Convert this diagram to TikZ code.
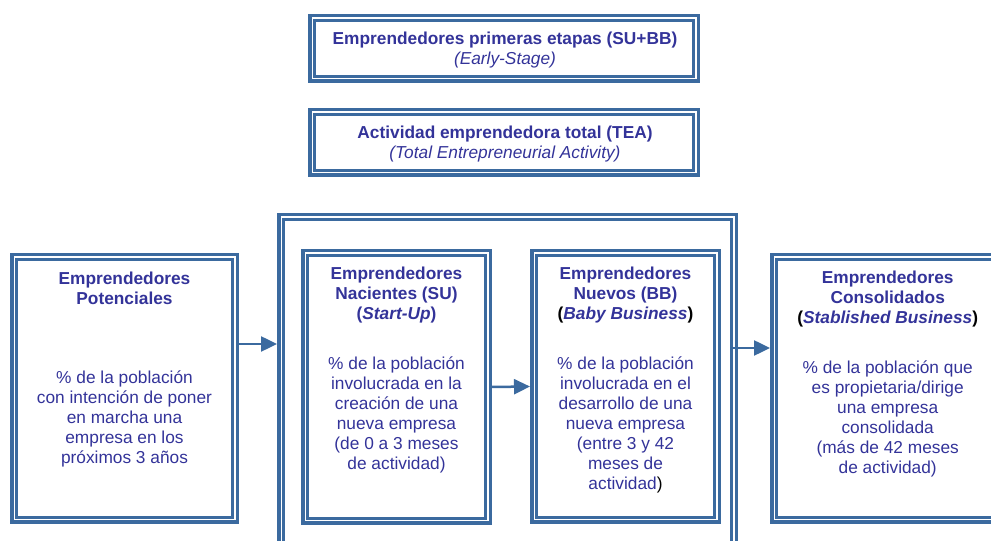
\documentclass[tikz,border=0pt]{standalone}
\usepackage{fontspec}
\setmainfont{Liberation Sans}
\usetikzlibrary{arrows.meta,fit}
\definecolor{bordc}{RGB}{59,106,159}
\definecolor{txtc}{RGB}{51,51,153}
\tikzset{
  frame/.style={inner sep=0pt, outer sep=0pt, draw=none},
  outerline/.style={draw=bordc, line width=3.5pt},
  innerline/.style={draw=bordc, line width=2.25pt},
  txt/.style={text=txtc, align=center, inner sep=0pt, anchor=base,
    font=\fontsize{17.3}{20}\selectfont},
  arr/.style={draw=bordc, line width=2.5pt, -{Triangle[length=16pt,width=15pt]}},
}
\newcommand\dframe[1]{%
  \draw[outerline] ([shift={(1.75,-1.75)}]#1.north west) rectangle ([shift={(-1.75,1.75)}]#1.south east);
  \draw[innerline] ([shift={(6.4,-6.4)}]#1.north west) rectangle ([shift={(-6.4,6.4)}]#1.south east);
}
\begin{document}
\begin{tikzpicture}[x=1pt,y=1pt]
\useasboundingbox (0,0) rectangle (991,541);
\clip (0,0) rectangle (991,541);
% frames
\node[frame, fit={(308,458) (700,527)}] (t1) {};
\node[frame, fit={(308,364) (700,433)}] (t2) {};
\node[frame, fit={(10,17) (239,288)}] (pot) {};
\node[frame, fit={(277,-20) (738,328)}] (cont) {};
\node[frame, fit={(301,16) (492,292)}] (su) {};
\node[frame, fit={(530,17) (721,292)}] (bb) {};
\node[frame, fit={(770,17) (1005,288)}] (co) {};
\dframe{t1}\dframe{t2}\dframe{pot}\dframe{cont}\dframe{su}\dframe{bb}\dframe{co}
% texts (anchor = baseline of last line)
\node[txt] (t1txt) at (505,476) {\textbf{Emprendedores primeras etapas (SU+BB)}\\\textit{(Early-Stage)}};
\node[txt] (t2txt) at (505,382.7) {\textbf{Actividad emprendedora total (TEA)}\\\textit{(Total Entrepreneurial Activity)}};
\node[txt] (pottitle) at (124.5,236.5) {\textbf{Emprendedores}\\\textbf{Potenciales}};
\node[txt] (potbody) at (124.5,77) {\% de la población\\con intención de poner\\en marcha una\\empresa en los\\próximos 3 años};
\node[txt] (sutitle) at (396.5,221) {\textbf{Emprendedores}\\\textbf{Nacientes (SU)}\\\textbf{(\textit{Start-Up})}};
\node[txt] (subody) at (396.5,71) {\% de la población\\involucrada en la\\creación de una\\nueva empresa\\(de 0 a 3 meses\\de actividad)};
\node[txt] (bbtitle) at (625.5,221) {\textbf{Emprendedores}\\\textbf{Nuevos (BB)}\\\textbf{{\color{black}(}\textit{Baby Business}{\color{black})}}};
\node[txt] (bbbody) at (625.5,51) {\% de la población\\involucrada en el\\desarrollo de una\\nueva empresa\\(entre 3 y 42\\meses de\\actividad{\color{black})}};
\node[txt] (cotitle) at (887.7,217) {\textbf{Emprendedores}\\\textbf{Consolidados}\\\textbf{{\color{black}(}\textit{Stablished Business}{\color{black})}}};
\node[txt] (cobody) at (887.7,67) {\% de la población que\\es propietaria/dirige\\una empresa\\consolidada\\(más de 42 meses\\de actividad)};
% arrows
\draw[arr] (pot.east |- 0,197) -- (cont.west |- 0,197);
\draw[arr] (su.east) -- (bb.west);
\draw[arr] ([xshift=-5pt]cont.east |- 0,193) -- (co.west |- 0,193);
\end{tikzpicture}
\end{document}
